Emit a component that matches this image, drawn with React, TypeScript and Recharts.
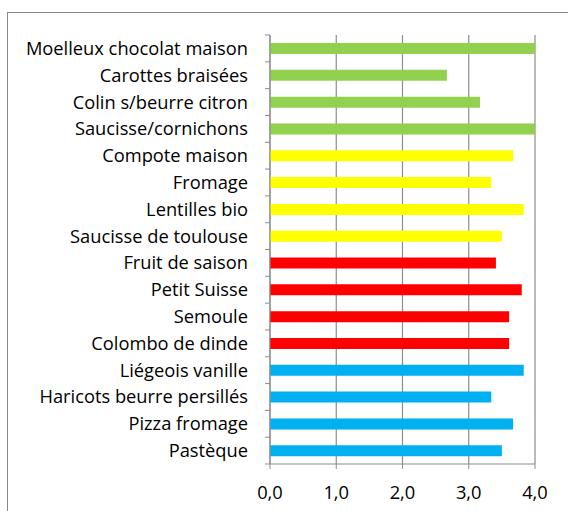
import { BarChart, Bar, XAxis, YAxis, CartesianGrid, Cell } from 'recharts';

const dishes = [
  'Moelleux chocolat maison',
  'Carottes braisées',
  'Colin s/beurre citron',
  'Saucisse/cornichons',
  'Compote maison',
  'Fromage',
  'Lentilles bio',
  'Saucisse de toulouse',
  'Fruit de saison',
  'Petit Suisse',
  'Semoule',
  'Colombo de dinde',
  'Liégeois vanille',
  'Haricots beurre persillés',
  'Pizza fromage',
  'Pastèque',
];

const scores = [4.0, 2.67, 3.17, 4.0, 3.67, 3.34, 3.83, 3.5, 3.41, 3.8, 3.61, 3.61, 3.83, 3.34, 3.67, 3.5];

// one colour per day (group of 4 dishes)
const dayColors = ['#92D050', '#FFFF00', '#FF0000', '#00B0F0'];

const xTicks = [0, 1, 2, 3, 4];

const data = dishes.map((name, i) => ({ name, score: scores[i], color: dayColors[Math.floor(i / 4)] }));

const FONT = '"Open Sans", Lato, sans-serif';
const AXIS_GRAY = '#8c8c8c';
const TICK_SIZE = 6;
const TICK_MARGIN = 16;

// Excel-like category axis: tick marks sit between categories, not on them
function DishTick(props: any) {
  const { x, y, payload, index } = props;
  const axisX = x + TICK_SIZE + TICK_MARGIN;
  const half = payload.offset ?? 13.4;
  return (
    <g>
      <line x1={axisX - 5} x2={axisX} y1={y - half} y2={y - half} stroke={AXIS_GRAY} />
      {index === dishes.length - 1 && (
        <line x1={axisX - 5} x2={axisX} y1={y + half} y2={y + half} stroke={AXIS_GRAY} />
      )}
      <text x={x} y={y} dy={6.5} textAnchor="end" fill="#000" fontSize={18.3} fontFamily={FONT}>
        {payload.value}
      </text>
    </g>
  );
}

export default function App() {
  return (
    <div style={{ position: 'absolute', left: 0, top: 0, width: 568, height: 511, background: '#fff', overflow: 'hidden' }}>
      <div
        style={{
          position: 'absolute',
          left: 7,
          top: 12,
          width: 580,
          height: 520,
          border: '1px solid #888',
          boxSizing: 'border-box',
        }}
      />
      <div style={{ position: 'absolute', left: 0, top: 0 }}>
        <BarChart
          width={568}
          height={511}
          data={data}
          layout="vertical"
          margin={{ top: 35, right: 33, bottom: 0, left: 0 }}
          barSize={11}
        >
          <CartesianGrid horizontal={false} stroke={AXIS_GRAY} strokeWidth={1.2} />
          <XAxis
            type="number"
            domain={[0, 4]}
            ticks={xTicks}
            interval={0}
            height={47}
            tickFormatter={(v: number) => v.toFixed(1).replace('.', ',')}
            tick={{ fill: '#000', fontSize: 18.3, fontFamily: FONT }}
            tickSize={5}
            tickMargin={17}
            stroke={AXIS_GRAY}
          />
          <YAxis
            type="category"
            dataKey="name"
            width={270}
            interval={0}
            tickLine={false}
            tickSize={TICK_SIZE}
            tickMargin={TICK_MARGIN}
            tick={<DishTick />}
            stroke={AXIS_GRAY}
          />
          <Bar dataKey="score" isAnimationActive={false}>
            {data.map((d, i) => (
              <Cell key={i} fill={d.color} />
            ))}
          </Bar>
        </BarChart>
      </div>
    </div>
  );
}
